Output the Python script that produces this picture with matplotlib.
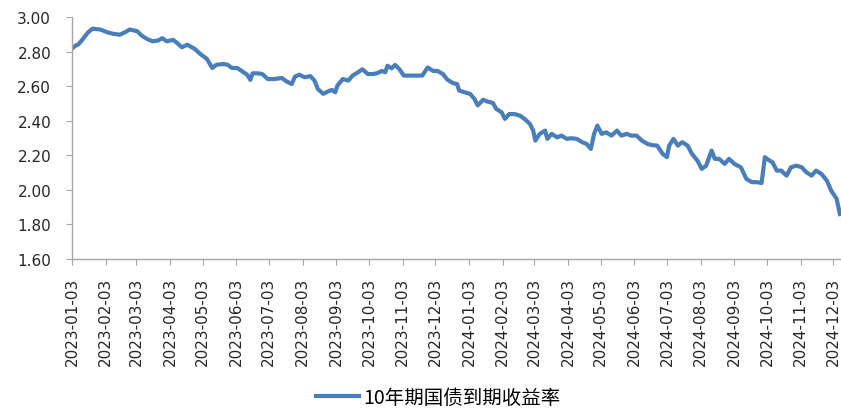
#!/usr/bin/env python3

import numpy as np
import pandas as pd
import matplotlib
matplotlib.use("Agg")
import matplotlib.pyplot as plt
import matplotlib.dates as mdates

plt.rcParams['font.family'] = ['DejaVu Sans', 'Noto Sans CJK SC']

# 10-year treasury yield
dates = [
    "2023-01-03", "2023-01-06", "2023-01-09", "2023-01-13", "2023-01-18", "2023-01-22",
    "2023-01-29", "2023-02-04", "2023-02-10", "2023-02-16", "2023-02-21", "2023-02-25",
    "2023-03-04", "2023-03-08", "2023-03-13", "2023-03-18", "2023-03-23", "2023-03-27",
    "2023-03-31", "2023-04-06", "2023-04-10", "2023-04-14", "2023-04-19", "2023-04-26",
    "2023-05-01", "2023-05-07", "2023-05-12", "2023-05-16", "2023-05-22", "2023-05-26",
    "2023-05-30", "2023-06-04", "2023-06-08", "2023-06-13", "2023-06-16", "2023-06-18",
    "2023-06-23", "2023-06-27", "2023-07-02", "2023-07-08", "2023-07-15", "2023-07-19",
    "2023-07-24", "2023-07-27", "2023-07-31", "2023-08-05", "2023-08-10", "2023-08-14",
    "2023-08-17", "2023-08-22", "2023-08-26", "2023-08-30", "2023-09-02", "2023-09-04",
    "2023-09-09", "2023-09-14", "2023-09-18", "2023-09-23", "2023-09-27", "2023-10-02",
    "2023-10-07", "2023-10-11", "2023-10-15", "2023-10-18", "2023-10-20", "2023-10-24",
    "2023-10-27", "2023-10-31", "2023-11-04", "2023-11-09", "2023-11-14", "2023-11-21",
    "2023-11-26", "2023-12-01", "2023-12-05", "2023-12-10", "2023-12-14", "2023-12-19",
    "2023-12-23", "2023-12-25", "2023-12-30", "2024-01-04", "2024-01-08", "2024-01-11",
    "2024-01-16", "2024-01-20", "2024-01-25", "2024-01-28", "2024-02-02", "2024-02-05",
    "2024-02-09", "2024-02-14", "2024-02-19", "2024-02-23", "2024-02-28", "2024-03-02",
    "2024-03-04", "2024-03-08", "2024-03-13", "2024-03-15", "2024-03-19", "2024-03-24",
    "2024-03-28", "2024-04-02", "2024-04-06", "2024-04-11", "2024-04-16", "2024-04-20",
    "2024-04-24", "2024-04-27", "2024-04-30", "2024-05-04", "2024-05-08", "2024-05-13",
    "2024-05-18", "2024-05-22", "2024-05-27", "2024-05-31", "2024-06-05", "2024-06-10",
    "2024-06-15", "2024-06-19", "2024-06-24", "2024-06-29", "2024-07-03", "2024-07-05",
    "2024-07-09", "2024-07-13", "2024-07-17", "2024-07-22", "2024-07-26", "2024-07-31",
    "2024-08-04", "2024-08-08", "2024-08-13", "2024-08-16", "2024-08-20", "2024-08-25",
    "2024-08-29", "2024-09-03", "2024-09-09", "2024-09-14", "2024-09-19", "2024-09-24",
    "2024-09-28", "2024-10-01", "2024-10-03", "2024-10-08", "2024-10-12", "2024-10-16",
    "2024-10-21", "2024-10-25", "2024-10-30", "2024-11-04", "2024-11-08", "2024-11-13",
    "2024-11-17", "2024-11-22", "2024-11-27", "2024-12-01", "2024-12-06", "2024-12-09",
]
yields = [
    2.82, 2.835, 2.845, 2.875, 2.915, 2.935,
    2.93, 2.915, 2.905, 2.90, 2.915, 2.93,
    2.92, 2.895, 2.875, 2.862, 2.866, 2.88,
    2.862, 2.87, 2.85, 2.827, 2.842, 2.817,
    2.788, 2.76, 2.707, 2.726, 2.73, 2.726,
    2.707, 2.707, 2.69, 2.668, 2.638, 2.676,
    2.676, 2.672, 2.643, 2.643, 2.649, 2.63,
    2.614, 2.657, 2.668, 2.653, 2.66, 2.634,
    2.585, 2.557, 2.57, 2.58, 2.566, 2.605,
    2.643, 2.634, 2.663, 2.682, 2.70, 2.672,
    2.672, 2.678, 2.69, 2.682, 2.72, 2.705,
    2.725, 2.70, 2.663, 2.663, 2.663, 2.663,
    2.71, 2.69, 2.69, 2.672, 2.64, 2.62,
    2.614, 2.576, 2.566, 2.557, 2.528, 2.49,
    2.523, 2.512, 2.504, 2.47, 2.45, 2.412,
    2.44, 2.44, 2.43, 2.412, 2.383, 2.344,
    2.286, 2.325, 2.344, 2.296, 2.325, 2.305,
    2.315, 2.296, 2.30, 2.296, 2.277, 2.267,
    2.238, 2.325, 2.373, 2.325, 2.334, 2.315,
    2.344, 2.315, 2.325, 2.315, 2.315, 2.286,
    2.267, 2.26, 2.257, 2.209, 2.19, 2.257,
    2.296, 2.257, 2.277, 2.257, 2.209, 2.17,
    2.122, 2.141, 2.228, 2.18, 2.18, 2.151,
    2.18, 2.151, 2.131, 2.064, 2.045, 2.045,
    2.04, 2.19, 2.18, 2.16, 2.112, 2.112,
    2.083, 2.131, 2.141, 2.131, 2.103, 2.083,
    2.112, 2.093, 2.054, 1.996, 1.948, 1.86,
]
series_name = "10年期国债到期收益率"
tick_dates = pd.date_range("2023-01-01", "2024-12-01", freq="MS") + pd.Timedelta(days=2)
y_ticks = [1.60, 1.80, 2.00, 2.20, 2.40, 2.60, 2.80, 3.00]

x = pd.to_datetime(dates)

fig = plt.figure(figsize=(8.41, 4.10), dpi=100)
ax = fig.add_axes([0.0856, 0.366, 0.9144, 0.589])

line, = ax.plot(x, yields, color="#4a7ebb", linewidth=3.0, solid_joinstyle="round")

ax.set_xlim(pd.Timestamp("2023-01-03"), pd.Timestamp("2024-12-10"))
ax.set_ylim(1.60, 3.00)
ax.set_yticks(y_ticks)
ax.set_yticklabels([f"{v:.2f}" for v in y_ticks])
ax.set_xticks(tick_dates)
ax.xaxis.set_major_formatter(mdates.DateFormatter("%Y-%m-%d"))

for side in ["top", "right"]:
    ax.spines[side].set_visible(False)
for side in ["left", "bottom"]:
    ax.spines[side].set_color("#a6a6a6")
    ax.spines[side].set_linewidth(1.0)

ax.tick_params(axis="y", direction="out", length=4, color="#a6a6a6",
               labelsize=11, pad=11, labelcolor="#262626")
ax.tick_params(axis="x", direction="out", length=4, color="#a6a6a6",
               labelsize=11, pad=9, labelcolor="#262626", labelrotation=90)

fig.legend([line], [series_name], loc="center", bbox_to_anchor=(0.521, 0.028),
           frameon=False, handlelength=2.2, handletextpad=0.2,
           prop={"family": ["Noto Sans CJK SC"], "size": 14})

fig.savefig("out.png", dpi=100)
